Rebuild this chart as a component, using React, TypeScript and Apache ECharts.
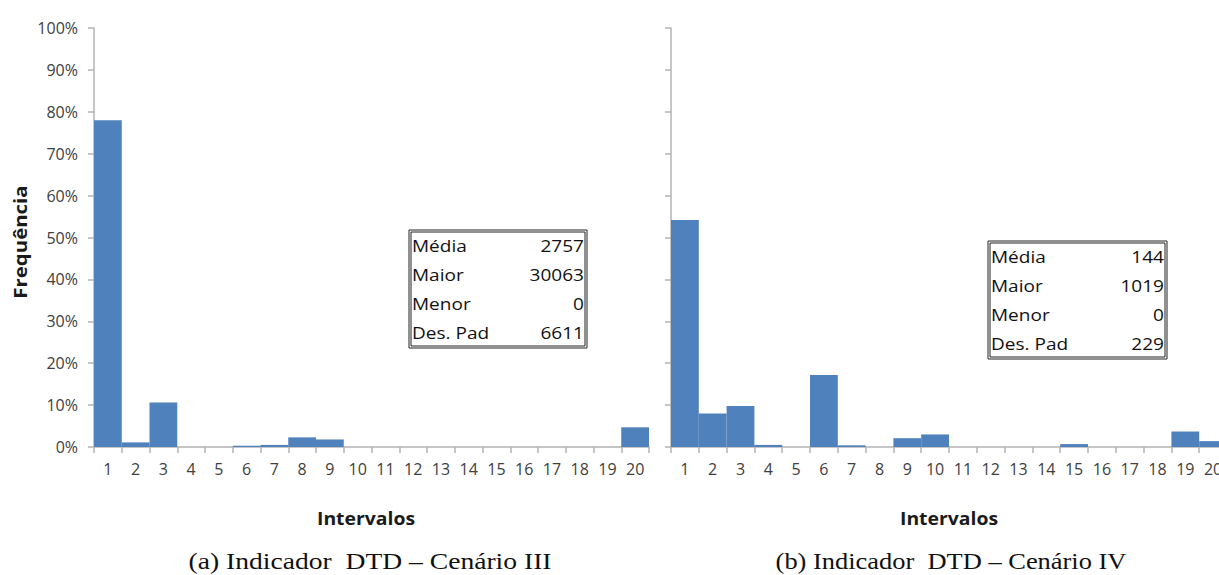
import React, { useEffect, useRef } from "react";
import * as echarts from "echarts";

const categories = ["1","2","3","4","5","6","7","8","9","10","11","12","13","14","15","16","17","18","19","20"];
const seriesA = [0.78, 0.011, 0.106, 0, 0, 0.003, 0.005, 0.023, 0.018, 0, 0, 0, 0, 0, 0, 0, 0, 0, 0, 0.047];
const seriesB = [0.542, 0.08, 0.098, 0.005, 0, 0.172, 0.004, 0, 0.021, 0.03, 0, 0, 0, 0, 0.007, 0, 0, 0, 0.037, 0.014];
const yTicks = [0, 0.1, 0.2, 0.3, 0.4, 0.5, 0.6, 0.7, 0.8, 0.9, 1];
const statLabels = ["Média", "Maior", "Menor", "Des. Pad"];
const statsA = ["2757", "30063", "0", "6611"];
const statsB = ["144", "1019", "0", "229"];
const captionA = "(a) Indicador  DTD – Cenário III";
const captionB = "(b) Indicador  DTD – Cenário IV";
const xName = "Intervalos";
const yName = "Frequência";

const FONT = "'Open Sans', sans-serif";
const SERIF = "'Liberation Serif', 'Times New Roman', serif";
const AXIS_COLOR = "#b3b3b3";
const LABEL_COLOR = "#404040";
const BAR_COLOR = "#4f81bd";

function statBox(x: number, y: number, w: number, values: string[]) {
  const rowH = 29.3;
  const sx = 1.12;
  const children: any[] = [
    { type: "rect", shape: { x: 0, y: 0, width: w, height: 118 }, style: { fill: "#fff", stroke: "#222", lineWidth: 1 } },
    { type: "rect", shape: { x: 2, y: 2, width: w - 4, height: 114 }, style: { fill: "none", stroke: "#222", lineWidth: 1 } },
  ];
  statLabels.forEach((lab, i) => {
    children.push({ type: "text", x: 3, y: 15 + i * rowH, scaleX: sx, style: { text: lab, font: `17px ${FONT}`, fill: "#111", textAlign: "left", textVerticalAlign: "middle" } });
    children.push({ type: "text", x: w - 3, y: 15 + i * rowH, scaleX: sx, style: { text: values[i], font: `17px ${FONT}`, fill: "#111", textAlign: "right", textVerticalAlign: "middle" } });
  });
  return { type: "group", x, y, children };
}

function label(text: string, x: number, y: number, font: string, sx: number, rotation = 0, fill = "#111") {
  return { type: "text", x, y, rotation, scaleX: sx, style: { text, font, fill, textAlign: "center", textVerticalAlign: "middle" } };
}

export default function App() {
  const ref = useRef<HTMLDivElement>(null);
  useEffect(() => {
    if (!ref.current) return;
    const chart = echarts.init(ref.current, null, { renderer: "svg" });
    const xAxisBase = (gridIndex: number) => ({
      type: "category",
      gridIndex,
      data: categories,
      boundaryGap: true,
      axisLine: { show: true, lineStyle: { color: AXIS_COLOR, width: 1.5 } },
      axisTick: { show: true, interval: 0, length: 6, lineStyle: { color: AXIS_COLOR, width: 1.5 } },
      axisLabel: { interval: 0, margin: 14, fontFamily: FONT, fontSize: 16, color: LABEL_COLOR },
      splitLine: { show: false },
    });
    const yAxisBase = (gridIndex: number, showLabels: boolean) => ({
      type: "value",
      gridIndex,
      min: 0,
      max: 1,
      interval: 0.1,
      axisLine: { show: true, lineStyle: { color: AXIS_COLOR, width: 1.5 } },
      axisTick: { show: true, length: 6, inside: false, lineStyle: { color: AXIS_COLOR, width: 1.5 } },
      axisLabel: {
        show: showLabels,
        margin: 16,
        fontFamily: FONT,
        fontSize: 16,
        color: LABEL_COLOR,
        formatter: (v: number) => (yTicks.includes(Math.round(v * 10) / 10) ? `${Math.round(v * 100)}%` : ""),
      },
      splitLine: { show: false },
    });
    const barSeries = (idx: number, data: number[]) => ({
      type: "bar",
      xAxisIndex: idx,
      yAxisIndex: idx,
      data,
      barCategoryGap: "0%",
      itemStyle: { color: BAR_COLOR },
      silent: true,
    });
    chart.setOption({
      animation: false,
      backgroundColor: "#fff",
      grid: [
        { left: 94, top: 28, width: 555, height: 419 },
        { left: 671, top: 28, width: 556, height: 419 },
      ],
      xAxis: [xAxisBase(0), xAxisBase(1)],
      yAxis: [yAxisBase(0, true), yAxisBase(1, false)],
      series: [barSeries(0, seriesA), barSeries(1, seriesB)],
      graphic: [
        statBox(409, 230, 178, statsA),
        statBox(988, 241, 179, statsB),
        label(yName, 20, 242, `bold 17px ${FONT}`, 1.2, Math.PI / 2, "#1a1a1a"),
        label(xName, 366, 518, `bold 17px ${FONT}`, 1.14, 0, "#1a1a1a"),
        label(xName, 949, 518, `bold 17px ${FONT}`, 1.14, 0, "#1a1a1a"),
        label(captionA, 370, 561, `23px ${SERIF}`, 1.2),
        label(captionB, 951, 561, `23px ${SERIF}`, 1.15),
      ],
    });
    return () => chart.dispose();
  }, []);
  return (
    <div style={{ position: "fixed", left: 0, top: 0, width: 1219, height: 575, overflow: "hidden", background: "#fff" }}>
      <div ref={ref} style={{ width: 1240, height: 575 }} />
    </div>
  );
}
